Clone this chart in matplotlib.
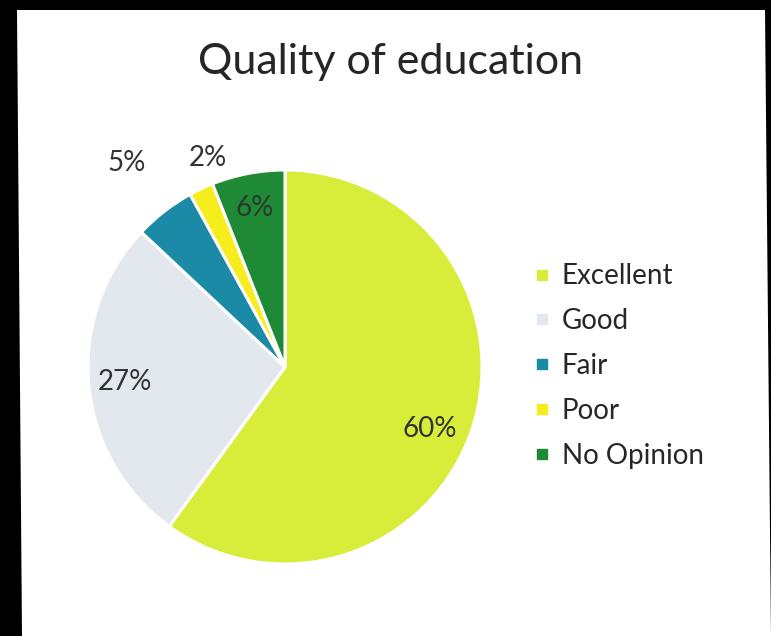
import numpy as np
import matplotlib
matplotlib.use("Agg")
import matplotlib.pyplot as plt
from matplotlib.patches import Polygon
from matplotlib.lines import Line2D

plt.rcParams["font.family"] = ["Lato", "DejaVu Sans"]

categories = ["Excellent", "Good", "Fair", "Poor", "No Opinion"]
shares = [60, 27, 5, 2, 6]
colors = ["#d7ed3a", "#e3e7ee", "#1a8aa6", "#f7ec1c", "#1f8a35"]
label_colors = ["#333333", "#333333", "#333333", "#333333", "#2a3a2a"]
# where each percent label sits, relative to its wedge
label_r = [0.80, 0.815, 1.31, 1.13, 0.82]
label_shift = [-5, 0, 0, -5, 0]

W, H = 771, 636
fig = plt.figure(figsize=(W / 100, H / 100), dpi=100)
fig.patch.set_facecolor("black")

# white page inside the dark scan border
page = Polygon([(17 / W, 1 - 10 / H), (765 / W, 1 - 10 / H), (771 / W, 0), (22 / W, 0)],
               closed=True, transform=fig.transFigure, facecolor="white", edgecolor="none",
               zorder=-10)
fig.patches.append(page)

fig.text(391 / W, 1 - 62 / H, "Quality of education", ha="center", va="center",
         fontsize=31, color="#262626")

cx, cy, r = 285, 367, 197
ax = fig.add_axes([(cx - r) / W, (H - cy - r) / H, 2 * r / W, 2 * r / H])
wedges, _ = ax.pie(shares, colors=colors, startangle=90, counterclock=False,
                   wedgeprops=dict(edgecolor="white", linewidth=2.2))
ax.set_xlim(-1, 1)
ax.set_ylim(-1, 1)
ax.set_aspect("equal")
ax.axis("off")

for w, v, rr, sh, c in zip(wedges, shares, label_r, label_shift, label_colors):
    mid = np.deg2rad((w.theta1 + w.theta2) / 2 + sh)
    ax.text(rr * np.cos(mid), rr * np.sin(mid), f"{v}%", ha="center", va="center",
            fontsize=20, color=c, clip_on=False)

handles = [Line2D([], [], marker="s", linestyle="none", markersize=7,
                  markerfacecolor=c, markeredgecolor=c) for c in colors]
fig.legend(handles, categories, loc="center left", bbox_to_anchor=(509 / W, 1 - 366 / H),
           frameon=False, fontsize=20, handlelength=0.6, handletextpad=0.4,
           labelspacing=0.68, labelcolor="#262626")

fig.savefig("out.png", dpi=100, facecolor=fig.get_facecolor())
